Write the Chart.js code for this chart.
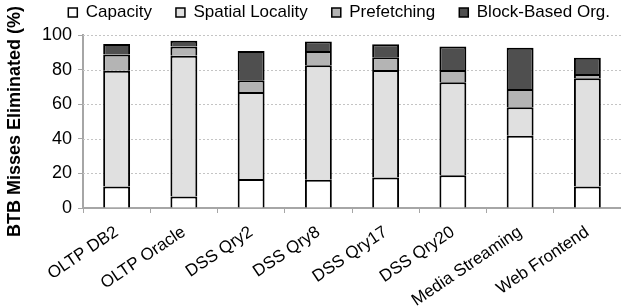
<!DOCTYPE html>
<html>
<head>
<meta charset="utf-8">
<script src="https://cdn.jsdelivr.net/npm/chart.js@4"></script>
<style>
  html, body { margin: 0; padding: 0; background: #fff; }
  #wrap { width: 621px; height: 307px; }
</style>
</head>
<body>
<div id="wrap"><canvas id="btbChart" width="621" height="307"></canvas></div>
<script>
const workloads = ['OLTP DB2', 'OLTP Oracle', 'DSS Qry2', 'DSS Qry8', 'DSS Qry17', 'DSS Qry20', 'Media Streaming', 'Web Frontend'];
const capacity = [12.5, 6.7, 16.7, 16.3, 17.7, 19.0, 41.7, 12.5];
const spatialLocality = [66.9, 81.3, 50.3, 66.2, 62.1, 53.7, 16.6, 62.5];
const prefetching = [9.4, 5.3, 6.8, 8.3, 7.3, 7.1, 10.5, 2.5];
const blockBased = [6.0, 3.4, 17.0, 5.4, 7.5, 13.5, 23.9, 9.4];
const yTicks = [0, 20, 40, 60, 80, 100];

const fontFamily = '"Liberation Sans", Arial, sans-serif';

function series(label, data, color) {
    return {
        label: label,
        data: data,
        backgroundColor: color,
        borderColor: '#000000',
        // only the top edge gets a horizontal line, so joins stay one line thick
        borderWidth: { left: 2, right: 2, top: 2, bottom: 0 },
        borderSkipped: false,
        barPercentage: 0.4,
        categoryPercentage: 1.0
    };
}

// fixed legend height so the plot starts where the original does
const legendHeight = {
    id: 'legendHeight',
    beforeInit(chart) {
        const fit = chart.legend.fit;
        chart.legend.fit = function () {
            fit.bind(this)();
            this.height = 55;
        };
    },
    afterLayout(chart) {
        // the original legend sits a bit further right
        chart.legend.left += 11;
        chart.legend.right += 11;
    }
};

// dotted horizontal gridlines like the original
const dottedGrid = {
    id: 'dottedGrid',
    beforeDatasetsDraw(chart) {
        const y = chart.scales.y;
        const area = chart.chartArea;
        const c = chart.ctx;
        c.save();
        c.strokeStyle = '#c4c4c4';
        c.lineWidth = 1;
        c.setLineDash([2, 2]);
        yTicks.forEach(v => {
            if (v === 0) return;
            const py = Math.round(y.getPixelForValue(v)) + 0.5;
            c.beginPath();
            c.moveTo(area.left, py);
            c.lineTo(area.right, py);
            c.stroke();
        });
        c.restore();
    }
};

const ctx = document.getElementById('btbChart').getContext('2d');
const btbChart = new Chart(ctx, {
    type: 'bar',
    data: {
        labels: workloads,
        datasets: [
            series('Capacity', capacity, '#ffffff'),
            series('Spatial Locality', spatialLocality, '#e0e0e0'),
            series('Prefetching', prefetching, '#b4b4b4'),
            series('Block-Based Org.', blockBased, '#4f4f4f')
        ]
    },
    options: {
        responsive: false,
        animation: false,
        devicePixelRatio: 1,
        layout: { padding: { left: 0, right: -2, top: -20, bottom: 0 } },
        plugins: {
            legend: {
                position: 'top',
                align: 'end',
                labels: {
                    color: '#000',
                    font: { family: fontFamily, size: 17 },
                    boxWidth: 9,
                    boxHeight: 9,
                    padding: 24
                }
            },
            tooltip: { enabled: false }
        },
        scales: {
            x: {
                stacked: true,
                grid: {
                    display: true,
                    drawOnChartArea: false,
                    drawTicks: true,
                    tickLength: 5,
                    color: '#a6a6a6',
                    offset: true
                },
                border: { display: true, color: '#a6a6a6', width: 2 },
                ticks: {
                    color: '#000',
                    font: { family: fontFamily, size: 17 },
                    minRotation: 34,
                    maxRotation: 34,
                    autoSkip: false,
                    padding: 9
                },
                afterFit(scale) { scale.height = 99; }
            },
            y: {
                stacked: true,
                min: 0,
                max: 100,
                afterBuildTicks(scale) { scale.ticks = yTicks.map(v => ({ value: v })); },
                grid: {
                    color: 'rgba(0,0,0,0)',
                    lineWidth: 1,
                    tickLength: 5,
                    tickColor: '#a6a6a6',
                    drawTicks: true
                },
                border: { display: true, color: '#a6a6a6', width: 2 },
                ticks: {
                    color: '#000',
                    font: { family: fontFamily, size: 18 },
                    padding: 6
                },
                title: {
                    display: true,
                    text: 'BTB Misses Eliminated (%)',
                    color: '#000',
                    font: { family: fontFamily, size: 18, weight: 'bold' },
                    padding: { top: 4, bottom: 2 }
                },
                afterFit(scale) { scale.width = 83; }
            }
        }
    },
    plugins: [legendHeight, dottedGrid]
});
</script>
</body>
</html>
